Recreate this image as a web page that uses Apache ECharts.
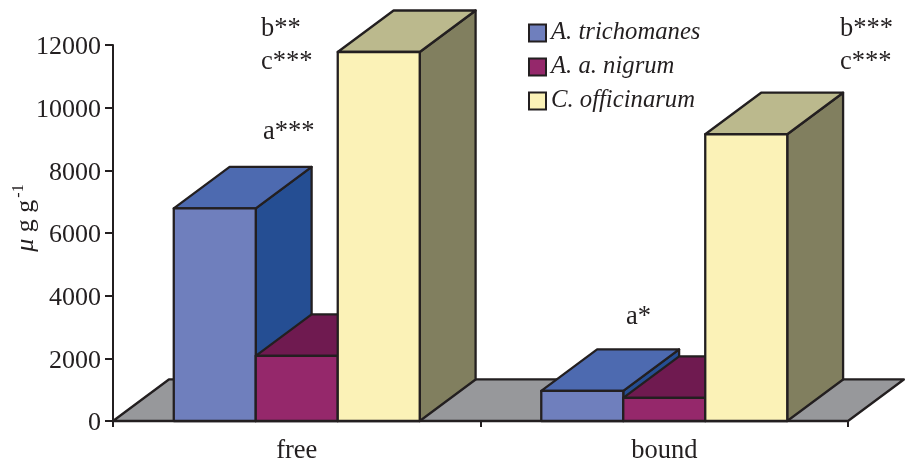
<!DOCTYPE html>
<html><head><meta charset="utf-8">
<style>html,body{margin:0;padding:0;background:#fff}#c{width:906px;height:462px}</style>
<script src="https://cdn.jsdelivr.net/npm/echarts@6/dist/echarts.min.js"></script>
</head><body><div id="c"></div>
<script>
const categories = ['free', 'bound'];
const trichomanes = [6784, 960];
const nigrum = [2080, 736];
const officinarum = [11776, 9152];
const names = ['A. trichomanes', 'A. a. nigrum', 'C. officinarum'];
const yTicks = {min: 0, max: 12000, interval: 2000};
const notes = [
  ['b**', 261, 16], ['c***', 261, 49], ['a***', 263, 119],
  ['b***', 840, 16], ['c***', 840, 49], ['a*', 626, 304]
];
const INK = '#231f20', FONT = '"Liberation Serif","Times New Roman",serif';
const BAR = 0.2231, DX = 0.152, DY = 0.113;
const palettes = [
  ['#6f7fbd', '#4d6ab0', '#254e93'],
  ['#95286b', '#6f1a50', '#6f1a50'],
  ['#fbf2b7', '#bbb98d', '#817f5f']
];
function poly(points, fill) {
  return {type: 'polygon', shape: {points}, style: {fill, stroke: INK, lineWidth: 2.3, lineJoin: 'round'}};
}
function barSeries(k, values) {
  return {
    type: 'custom', name: names[k], z: 3 + k,
    itemStyle: {color: palettes[k][0], borderColor: INK, borderWidth: 2.5},
    encode: {x: 0, y: 1},
    data: values.map((v, i) => [i, v]),
    renderItem(params, api) {
      const band = api.size([1, 0])[0], w = band * BAR, dx = band * DX, dy = band * DY;
      const p = api.coord([api.value(0), api.value(1)]);
      const y0 = api.coord([api.value(0), 0])[1];
      const l = p[0] - 1.5 * w + k * w, r = l + w, t = p[1];
      return {type: 'group', children: [
        poly([[r, t], [r + dx, t - dy], [r + dx, y0 - dy], [r, y0]], palettes[k][2]),
        poly([[l, t], [l + dx, t - dy], [r + dx, t - dy], [r, t]], palettes[k][1]),
        poly([[l, t], [r, t], [r, y0], [l, y0]], palettes[k][0])
      ]};
    }
  };
}
const floorSeries = {
  type: 'custom', name: 'floor', z: 1, silent: true, data: [[0, 0]], encode: {x: 0, y: 1},
  renderItem(params, api) {
    const c = params.coordSys, band = api.size([1, 0])[0], dx = band * DX, dy = band * DY;
    const b = c.y + c.height, l = c.x, r = c.x + c.width;
    return poly([[l, b], [l + dx, b - dy], [r + dx, b - dy], [r, b]], '#97989b');
  }
};
const chart = echarts.init(document.getElementById('c'), null, {renderer: 'canvas'});
chart.setOption({
  animation: false,
  backgroundColor: '#fff',
  textStyle: {fontFamily: FONT, color: INK},
  grid: {left: 113, right: 58, top: 45, bottom: 41, containLabel: false, outerBoundsMode: 'none'},
  legend: {
    orient: 'vertical', left: 528, top: 20.5, padding: 0, itemWidth: 17, itemHeight: 17, itemGap: 9,
    icon: 'rect', data: names, selectedMode: false,
    textStyle: {fontFamily: FONT, fontStyle: 'italic', fontSize: 24.7, color: INK}
  },
  xAxis: {
    type: 'category', data: categories,
    axisLine: {lineStyle: {color: INK, width: 2}},
    axisTick: {show: true, length: 6, alignWithLabel: false, lineStyle: {color: INK, width: 2}},
    axisLabel: {fontFamily: FONT, fontSize: 26.5, color: INK, margin: 17}
  },
  yAxis: {
    type: 'value', min: yTicks.min, max: yTicks.max, interval: yTicks.interval,
    name: '{mu|μ}{g| g g}{sup|-1}', nameLocation: 'middle', nameRotate: 90, nameGap: 72, nameMoveOverlap: false,
    nameTextStyle: {
      padding: [0, 0, 0, 30],
      rich: {
        mu: {fontFamily: FONT, fontStyle: 'italic', fontSize: 26, color: INK},
        g: {fontFamily: FONT, fontSize: 26, color: INK},
        sup: {fontFamily: FONT, fontSize: 16, color: INK, verticalAlign: 'top', padding: [0, 0, 14, 2]}
      }
    },
    splitLine: {show: false},
    axisLine: {show: true, lineStyle: {color: INK, width: 2}},
    axisTick: {show: true, length: 8, lineStyle: {color: INK, width: 2}},
    axisLabel: {fontFamily: FONT, fontSize: 26, color: INK, margin: 12, verticalAlign: 'top', lineHeight: 5, formatter: v => String(v)}
  },
  series: [floorSeries, barSeries(0, trichomanes), barSeries(1, nigrum), barSeries(2, officinarum)],
  graphic: notes.map(([text, left, top]) => ({
    type: 'text', left, top, z: 20,
    style: {text, fontFamily: FONT, fontSize: 26.5, fill: INK}
  }))
});
</script></body></html>
